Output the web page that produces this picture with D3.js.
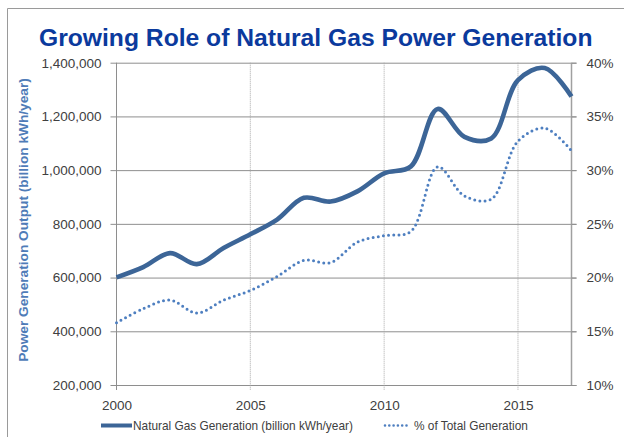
<!DOCTYPE html>
<html><head><meta charset="utf-8">
<script src="https://cdn.jsdelivr.net/npm/d3@7"></script>
<style>body{margin:0;background:#fff}svg{display:block}</style>
</head><body>
<svg id="c" width="624" height="437"></svg>
<script>
const years = [2000,2001,2002,2003,2004,2005,2006,2007,2008,2009,2010,2011,2012,2013,2014,2015,2016,2017];
const gasGen = [601000,639000,691000,650000,710000,761000,816000,897000,883000,921000,988000,1014000,1228000,1124000,1118000,1335000,1380000,1274000];
const gasShare = [15.8,17.1,17.9,16.7,17.9,18.8,20.1,21.6,21.4,23.3,23.9,24.3,30.3,27.6,27.3,32.7,33.9,31.8];
const leftTicks = [200000,400000,600000,800000,1000000,1200000,1400000];
const rightTicks = [10,15,20,25,30,35,40];
const xTicks = [2000,2005,2010,2015];
const title = "Growing Role of Natural Gas Power Generation";
const yLabel = "Power Generation Output (billion kWh/year)";
const legendLabels = ["Natural Gas Generation (billion kWh/year)", "% of Total Generation"];

const svg = d3.select("#c");
const L = 116.5, R = 571.5, T = 62.7, B = 385;
const x = d3.scaleLinear().domain([2000,2017]).range([L,R]);
const yL = d3.scaleLinear().domain([200000,1400000]).range([B,T]);
const yR = d3.scaleLinear().domain([10,40]).range([B,T]);
const tickFont = "Liberation Sans, Arial, sans-serif";
const lineCol = "#3c6597", dotCol = "#4e7fc0", gridCol = "#8e8e8e", textCol = "#404040";

function fit(sel, size, width){
  sel.attr("font-size", size);
  const w = sel.node().getComputedTextLength();
  sel.attr("font-size", size*width/w);
}

// outer border
svg.append("path").attr("d","M7.5,437 V8.5 H624").attr("fill","none").attr("stroke","#9a9a9a").attr("stroke-width",1);

// title
const t = svg.append("text").attr("x",39).attr("y",46).attr("font-family","Liberation Sans, Arial, sans-serif")
  .attr("font-weight","bold").attr("fill","#0b3a9d").text(title);
fit(t, 24, 554);

// horizontal gridlines (left axis)
const gL = svg.append("g").attr("transform",`translate(${L},0)`)
  .call(d3.axisLeft(yL).tickValues(leftTicks).tickSize(6).tickPadding(4).tickFormat(d3.format(",")));
gL.select(".domain").remove();
gL.selectAll(".tick line").attr("stroke",gridCol).attr("x2",R-L+5).attr("x1",-6);
gL.selectAll(".tick text").attr("font-family",tickFont).attr("font-size",13.5).attr("fill",textCol).attr("x",-15);

// vertical dotted gridlines
svg.append("g").selectAll("line").data(xTicks.slice(1)).join("line")
  .attr("x1",d=>x(d)).attr("x2",d=>x(d)).attr("y1",T).attr("y2",B+5)
  .attr("stroke","#a8a8a8").attr("stroke-dasharray","1,1").attr("stroke-width",1);

// axis lines
svg.append("line").attr("x1",L).attr("x2",L).attr("y1",T).attr("y2",B+5).attr("stroke",gridCol);
svg.append("line").attr("x1",R).attr("x2",R).attr("y1",T).attr("y2",B).attr("stroke","#a0a0a0").attr("stroke-width",1.5);

// right axis
const gR = svg.append("g").attr("transform",`translate(${R},0)`)
  .call(d3.axisRight(yR).tickValues(rightTicks).tickSize(5).tickPadding(10).tickFormat(d=>d+"%"));
gR.select(".domain").remove();
gR.selectAll(".tick line").attr("stroke",gridCol);
gR.selectAll(".tick text").attr("font-family",tickFont).attr("font-size",13.5).attr("fill",textCol);

// x axis labels
const gX = svg.append("g").attr("transform",`translate(0,${B})`)
  .call(d3.axisBottom(x).tickValues(xTicks).tickSize(0).tickPadding(15).tickFormat(d3.format("d")));
gX.select(".domain").remove();
gX.selectAll(".tick text").attr("font-family",tickFont).attr("font-size",13.5).attr("fill",textCol);

// y label
const yl = svg.append("text").attr("transform","translate(28,220) rotate(-90)").attr("text-anchor","middle")
  .attr("font-family",tickFont).attr("font-weight","bold").attr("fill","#4f7cb8").text(yLabel);
fit(yl, 12.5, 284);

// lines
const curve = d3.curveCatmullRom.alpha(0.5);
svg.append("path").datum(years.map((yr,i)=>[x(yr),yR(gasShare[i])]))
  .attr("d",d3.line().curve(curve)).attr("fill","none").attr("stroke",dotCol).attr("stroke-width",3)
  .attr("stroke-linecap","round").attr("stroke-dasharray","0,5.2");
svg.append("path").datum(years.map((yr,i)=>[x(yr),yL(gasGen[i])]))
  .attr("d",d3.line().curve(curve)).attr("fill","none").attr("stroke",lineCol).attr("stroke-width",4.6)
  .attr("stroke-linejoin","round");

// legend
const lg = svg.append("g");
lg.append("line").attr("x1",101).attr("x2",132).attr("y1",425.5).attr("y2",425.5).attr("stroke",lineCol).attr("stroke-width",4);
fit(lg.append("text").attr("x",133).attr("y",430).attr("font-family",tickFont).attr("fill",textCol).text(legendLabels[0]), 12.5, 220);
lg.append("line").attr("x1",385).attr("x2",410).attr("y1",425.5).attr("y2",425.5).attr("stroke",dotCol).attr("stroke-width",2.6)
  .attr("stroke-linecap","round").attr("stroke-dasharray","0,4.3");
fit(lg.append("text").attr("x",414).attr("y",430).attr("font-family",tickFont).attr("fill",textCol).text(legendLabels[1]), 12.5, 114);
</script>
</body></html>
